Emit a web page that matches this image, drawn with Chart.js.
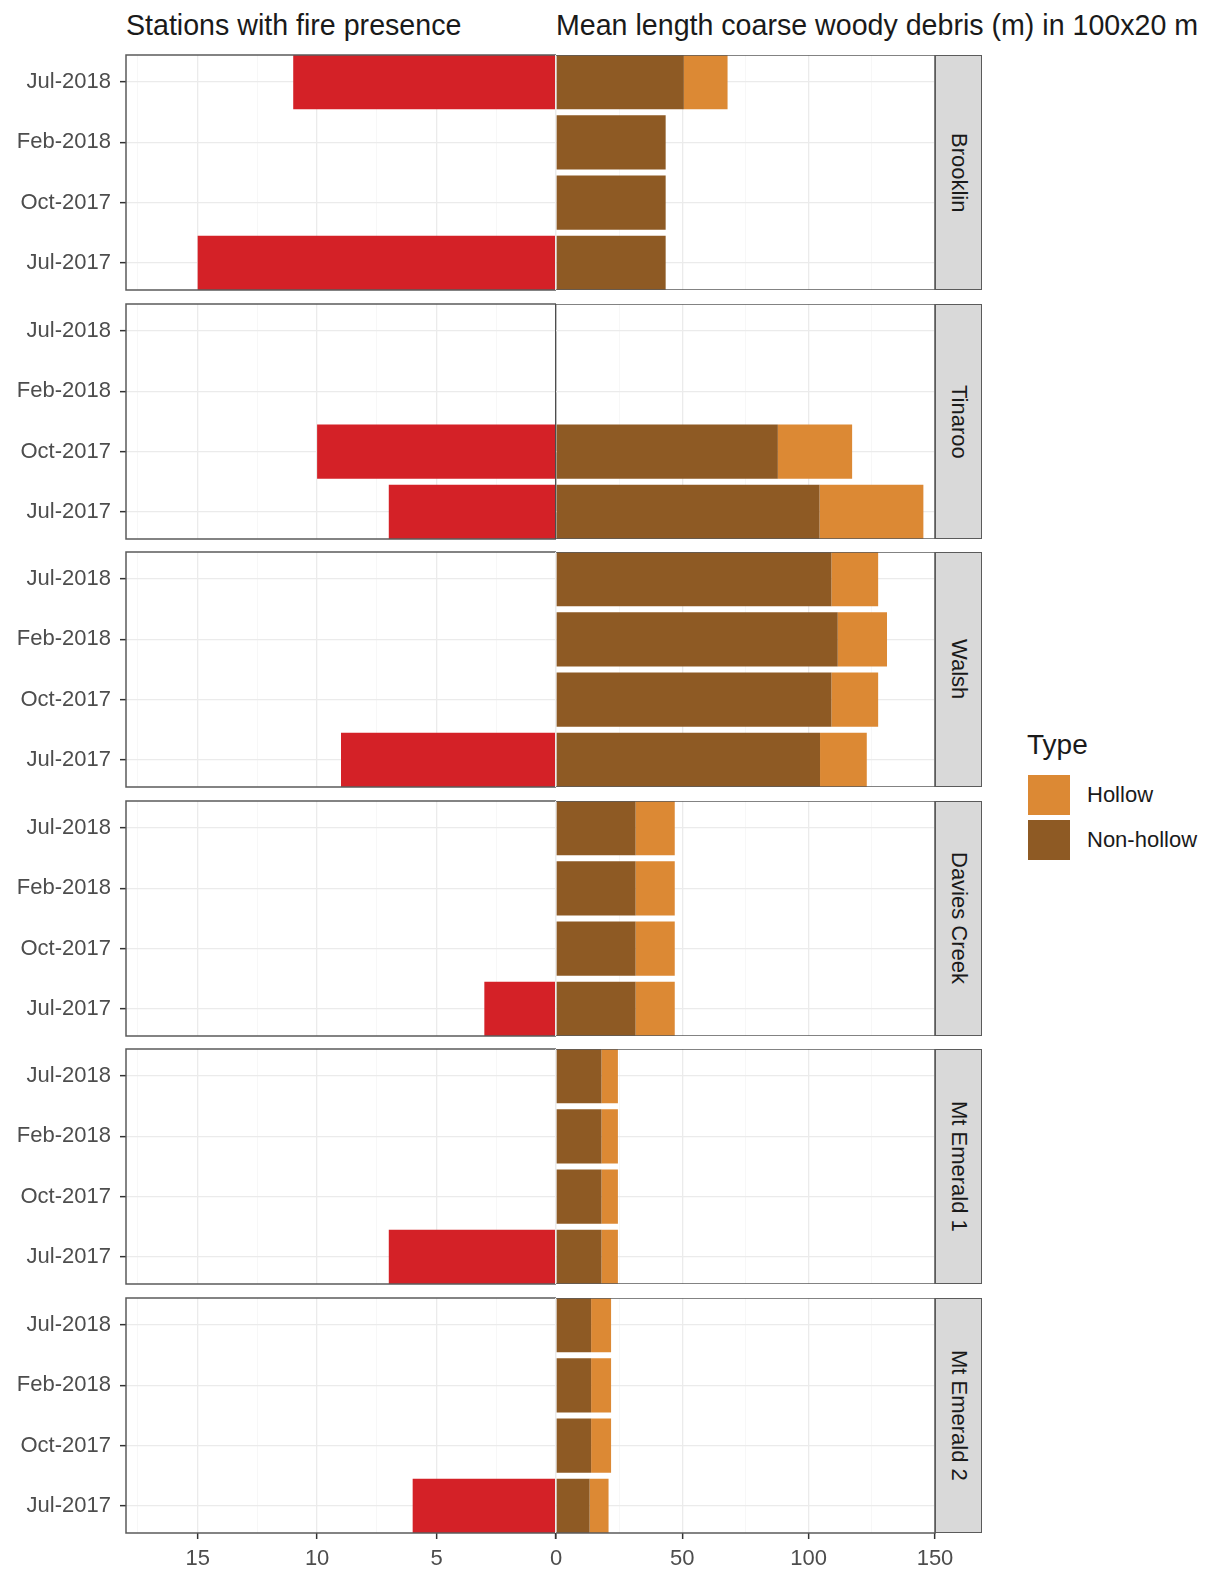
<!DOCTYPE html>
<html>
<head>
<meta charset="utf-8">
<title>Fire presence and coarse woody debris</title>
<script src="https://cdn.jsdelivr.net/npm/chart.js"></script>
<style>
  body { margin: 0; background: #fff; font-family: "Liberation Sans", Arial, sans-serif; }
  #wrap { position: relative; width: 1206px; height: 1571px; overflow: hidden; background: #fff; }
  canvas { position: absolute; }
  .title { position: absolute; top: 11px; font-size: 28.6px; line-height: 28px; color: #1a1a1a; white-space: nowrap; }
  .strip { position: absolute; left: 935px; width: 47px; box-sizing: border-box; background: #d9d9d9;
           border: 1.5px solid #5b5b5b; display: flex; align-items: center; justify-content: center; }
  .strip span { writing-mode: vertical-rl; font-size: 22px; color: #1a1a1a; white-space: nowrap; }
  .legend-title { position: absolute; left: 1027px; top: 731px; font-size: 28px; line-height: 28px; color: #1a1a1a; }
  .key { position: absolute; left: 1028px; width: 42px; height: 40px; }
  .key-label { position: absolute; left: 1087px; font-size: 22px; line-height: 22px; color: #1a1a1a; }
</style>
</head>
<body>
<div id="wrap">
  <div class="title" style="left:126px">Stations with fire presence</div>
  <div class="title" style="left:556px">Mean length coarse woody debris (m) in 100x20 m</div>
</div>
<script>
'use strict';
var dates = ['Jul-2017', 'Oct-2017', 'Feb-2018', 'Jul-2018'];
var sites = ['Brooklin', 'Tinaroo', 'Walsh', 'Davies Creek', 'Mt Emerald 1', 'Mt Emerald 2'];
// one row per site, columns follow dates
var fireStations = [
  [15, 0, 0, 11],
  [7, 10, 0, 0],
  [9, 0, 0, 0],
  [3, 0, 0, 0],
  [7, 0, 0, 0],
  [6, 0, 0, 0]
];
var nonHollow = [
  [43.4, 43.4, 43.4, 50.6],
  [104.3, 87.8, null, null],
  [104.5, 109, 111.5, 109],
  [31.5, 31.5, 31.5, 31.5],
  [18, 18, 18, 18],
  [13.3, 13.9, 13.9, 13.9]
];
var hollow = [
  [0, 0, 0, 17.3],
  [41.1, 29.4, null, null],
  [18.5, 18.5, 19.5, 18.5],
  [15.5, 15.5, 15.5, 15.5],
  [6.5, 6.5, 6.5, 6.5],
  [7.5, 7.9, 7.9, 7.9]
];
var fireTicks = [15, 10, 5, 0];
var debrisTicks = [0, 50, 100, 150];
var fireMax = 18;
var typeNames = ['Hollow', 'Non-hollow'];
var typeColors = ['#dc8934', '#8e5a24'];
var fireColor = '#d42127';
var zeroLineSites = ['Tinaroo'];

// panel geometry
var panelTop0 = 55, panelStep = 248.6, panelH = 235, axisH = 42;
var splitX = 556, panelLeft = 126, panelRight = 935;

Chart.defaults.font.family = '"Liberation Sans", Arial, sans-serif';
Chart.defaults.font.size = 22;
Chart.defaults.color = '#4d4d4d';

var wrap = document.getElementById('wrap');

var panelBorder = {
  id: 'panelBorder',
  afterDraw: function (chart, args, opts) {
    var a = chart.chartArea, c = chart.ctx;
    var near = opts.side === 'left' ? a.left : a.right;
    var far = opts.side === 'left' ? a.right : a.left;
    c.save();
    c.strokeStyle = '#5b5b5b';
    c.lineWidth = 1.5;
    c.beginPath();
    c.moveTo(far, a.top);
    c.lineTo(near, a.top);
    c.lineTo(near, a.bottom);
    c.lineTo(far, a.bottom);
    c.stroke();
    c.restore();
  }
};

function addCanvas(left, top, w, h) {
  var cv = document.createElement('canvas');
  cv.width = w;
  cv.height = h;
  cv.style.left = left + 'px';
  cv.style.top = top + 'px';
  cv.style.width = w + 'px';
  cv.style.height = h + 'px';
  wrap.appendChild(cv);
  return cv;
}

// major ticks plus a minor one halfway to the next major
function withMinor(majors, limit) {
  var sorted = majors.slice().sort(function (a, b) { return a - b; });
  var step = sorted[1] - sorted[0];
  var res = [];
  sorted.forEach(function (m) {
    res.push({ value: m });
    if (m + step / 2 < limit) res.push({ value: m + step / 2 });
  });
  return res;
}

function isMajor(ctx, majors) {
  return ctx.tick && majors.indexOf(ctx.tick.value) > -1;
}

function dateAxis(showLabels) {
  return {
    type: 'linear',
    min: 0.55,
    max: 4.45,
    offset: false,
    afterBuildTicks: function (s) {
      s.ticks = dates.map(function (d, k) { return { value: k + 1 }; });
    },
    afterFit: function (s) {
      if (showLabels) s.width = panelLeft;
    },
    ticks: {
      display: showLabels,
      padding: 9,
      callback: function (v) { return dates[v - 1]; }
    },
    grid: {
      offset: false,
      color: '#ebebeb',
      lineWidth: 1.3,
      drawTicks: showLabels,
      tickLength: 6,
      tickWidth: 1.5,
      tickColor: '#333333'
    },
    border: { display: false }
  };
}

// hideZero: the zero label is shared with the debris axis, which draws it
function valueAxis(majors, max, reverse, last, zeroLine, hideZero) {
  return {
    type: 'linear',
    min: 0,
    max: max,
    reverse: reverse,
    afterBuildTicks: function (s) { s.ticks = withMinor(majors, max); },
    afterFit: function (s) { if (last) s.height = axisH; },
    ticks: {
      display: last,
      autoSkip: false,
      maxRotation: 0,
      padding: 7,
      callback: function (v) {
        if (hideZero && v === 0) return '';
        return majors.indexOf(v) > -1 ? String(v) : '';
      }
    },
    grid: {
      color: function (ctx) {
        if (zeroLine && ctx.tick && ctx.tick.value === 0) return '#4d4d4d';
        return isMajor(ctx, majors) ? '#ebebeb' : '#f3f3f3';
      },
      lineWidth: function (ctx) {
        if (zeroLine && ctx.tick && ctx.tick.value === 0) return 1.2;
        return isMajor(ctx, majors) ? 1.3 : 0.7;
      },
      drawTicks: last,
      tickLength: 6,
      tickWidth: 1.5,
      tickColor: function (ctx) { return isMajor(ctx, majors) ? '#333333' : 'rgba(0,0,0,0)'; }
    },
    border: { display: false }
  };
}

function rowsOf(values) {
  return values.map(function (v, k) { return { x: v, y: k + 1 }; });
}

function drawFire(i, top, last) {
  var padTop = 24, padBottom = last ? 0 : 24;
  var cv = addCanvas(0, top - padTop, splitX + 12, padTop + panelH + (last ? axisH : padBottom));
  new Chart(cv, {
    type: 'bar',
    data: {
      datasets: [{
        label: 'Stations with fire presence',
        data: rowsOf(fireStations[i]),
        backgroundColor: fireColor,
        borderWidth: 0,
        barPercentage: 0.9,
        categoryPercentage: 1
      }]
    },
    options: {
      indexAxis: 'y',
      responsive: false,
      animation: false,
      events: [],
      layout: { padding: { left: 0, right: 12, top: padTop, bottom: padBottom } },
      plugins: { legend: { display: false }, tooltip: { enabled: false }, panelBorder: { side: 'left' } },
      scales: {
        x: valueAxis(fireTicks, fireMax, true, last, zeroLineSites.indexOf(sites[i]) > -1, true),
        y: dateAxis(true)
      }
    },
    plugins: [panelBorder]
  });
}

function drawDebris(i, top, last) {
  var padL = 18, padR = 32;
  var cv = addCanvas(splitX - padL, top, panelRight - splitX + padL + padR, panelH + (last ? axisH : 0));
  new Chart(cv, {
    type: 'bar',
    data: {
      datasets: [{
        label: typeNames[1],
        data: rowsOf(nonHollow[i]),
        backgroundColor: typeColors[1],
        borderWidth: 0,
        barPercentage: 0.9,
        categoryPercentage: 1
      }, {
        label: typeNames[0],
        data: rowsOf(hollow[i]),
        backgroundColor: typeColors[0],
        borderWidth: 0,
        barPercentage: 0.9,
        categoryPercentage: 1
      }]
    },
    options: {
      indexAxis: 'y',
      responsive: false,
      animation: false,
      events: [],
      layout: { padding: { left: padL, right: padR, top: 0, bottom: 0 } },
      plugins: { legend: { display: false }, tooltip: { enabled: false }, panelBorder: { side: 'right' } },
      scales: {
        x: Object.assign(valueAxis(debrisTicks, debrisTicks[debrisTicks.length - 1], false, last,
          zeroLineSites.indexOf(sites[i]) > -1, false), { stacked: true }),
        y: Object.assign(dateAxis(false), { stacked: true })
      }
    },
    plugins: [panelBorder]
  });
}

sites.forEach(function (site, i) {
  var top = Math.round(panelTop0 + i * panelStep);
  var last = i === sites.length - 1;
  drawFire(i, top, last);
  drawDebris(i, top, last);

  var strip = document.createElement('div');
  strip.className = 'strip';
  strip.style.top = top + 'px';
  strip.style.height = panelH + 'px';
  var txt = document.createElement('span');
  txt.textContent = site;
  strip.appendChild(txt);
  wrap.appendChild(strip);
});

// legend for the debris type
var lt = document.createElement('div');
lt.className = 'legend-title';
lt.textContent = 'Type';
wrap.appendChild(lt);
typeNames.forEach(function (name, k) {
  var key = document.createElement('div');
  key.className = 'key';
  key.style.top = (775 + k * 45) + 'px';
  key.style.background = typeColors[k];
  wrap.appendChild(key);
  var lab = document.createElement('div');
  lab.className = 'key-label';
  lab.style.top = (775 + k * 45 + 9) + 'px';
  lab.textContent = name;
  wrap.appendChild(lab);
});
</script>
</body>
</html>
